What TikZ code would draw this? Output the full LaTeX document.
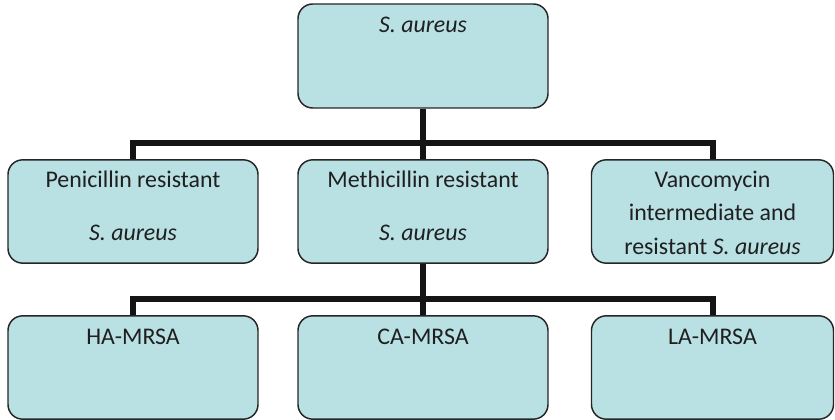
\documentclass[tikz,border=0pt]{standalone}
\usepackage{fontspec}
\setmainfont{Carlito}
\usetikzlibrary{calc}
\definecolor{boxfill}{RGB}{185,224,227}
\definecolor{boxline}{RGB}{38,38,38}
\newcommand{\boxlines}[1]{\begin{tabular}[t]{@{}c@{}}#1\end{tabular}}
\begin{document}
\begin{tikzpicture}[x=0.75pt,y=0.75pt,yscale=-1,xscale=1,
  box/.style={draw=boxline,fill=boxfill,line width=1.1pt,rounded corners=11pt,
    minimum width=187.5pt,minimum height=77.5pt,inner sep=0pt},
  narrowbox/.style={box,minimum width=181.5pt},
  txt/.style={anchor=base,inner sep=0pt,text=black!88,
    font=\fontsize{17.9}{25.1}\selectfont},
  link/.style={draw=black!92,line width=4.5pt}]
\useasboundingbox (0,0) rectangle (835,420);
% boxes
\draw (423,56) node [box,minimum height=78pt] (sa) {};
\draw (133,211.5) node [box] (pen) {};
\draw (423,211.5) node [box] (meth) {};
\draw (712.5,211.5) node [narrowbox] (vanc) {};
\draw (133,367.5) node [box] (ha) {};
\draw (423,367.5) node [box] (ca) {};
\draw (712.5,367.5) node [narrowbox] (la) {};
% texts
\draw ($(sa.north)+(0,29)$) node [txt] (sa-t) {\textit{S. aureus}};
\draw ($(pen.north)+(0,28)$) node [txt] (pen-t) {\boxlines{Penicillin resistant\\[14.6pt]\textit{S. aureus}}};
\draw ($(meth.north)+(0,28)$) node [txt] (meth-t) {\boxlines{Methicillin resistant\\[14.6pt]\textit{S. aureus}}};
\draw ($(vanc.north)+(0,28)$) node [txt] (vanc-t) {\boxlines{Vancomycin\\intermediate and\\resistant \textit{S. aureus}}};
\draw ($(ha.north)+(0,29)$) node [txt] (ha-t) {HA-MRSA};
\draw ($(ca.north)+(0,29)$) node [txt] (ca-t) {CA-MRSA};
\draw ($(la.north)+(0,29)$) node [txt] (la-t) {LA-MRSA};
% connectors
\coordinate (j1) at (423,143.5);
\coordinate (j2) at (423,299);
\draw [link] (sa.south) -- (j1);
\draw [link] (pen.north) |- (j1) -| (vanc.north);
\draw [link] (j1) -- (meth.north);
\draw [link] (meth.south) -- (j2);
\draw [link] (ha.north) |- (j2) -| (la.north);
\draw [link] (j2) -- (ca.north);
\end{tikzpicture}
\end{document}
